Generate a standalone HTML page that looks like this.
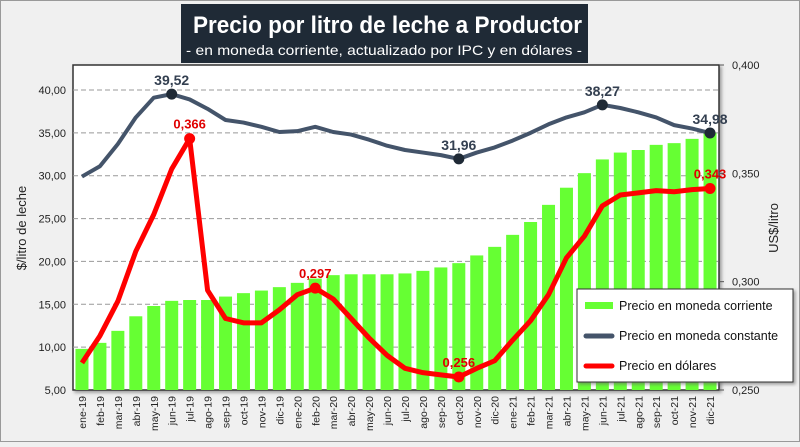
<!DOCTYPE html>
<html><head><meta charset="utf-8"><style>
body{margin:0;width:800px;height:442px;overflow:hidden;background:#f0f0f0;font-family:"Liberation Sans",sans-serif}
</style></head><body>
<svg id="c" width="800" height="442" xmlns="http://www.w3.org/2000/svg" style="font-family:'Liberation Sans',sans-serif">
<defs><filter id="sh" x="-5%" y="-5%" width="110%" height="110%"><feDropShadow dx="2" dy="2" stdDeviation="1.5" flood-color="#666" flood-opacity="0.6"/></filter></defs>
<rect x="0.5" y="0.5" width="799" height="441" fill="#f0f0f0" stroke="#999"/>
<rect x="73" y="65" width="646" height="325" fill="#fff" stroke="#333" stroke-width="1.5" filter="url(#sh)"/>
<g id="grid"></g><g id="bars"></g><g id="lines"></g><g id="axes"></g>
<rect x="181" y="4" width="407" height="59" fill="#1f2a36"/>
<text x="193" y="33" textLength="389" lengthAdjust="spacingAndGlyphs" fill="#fff" font-size="24" font-weight="bold">Precio por litro de leche a Productor</text>
<text x="186" y="55" textLength="396" lengthAdjust="spacingAndGlyphs" fill="#fff" font-size="14">- en moneda corriente, actualizado por IPC y en dólares -</text>
<text transform="translate(26,228) rotate(-90)" text-anchor="middle" font-size="13" fill="#222">$/litro de leche</text>
<text transform="translate(778,228) rotate(-90)" text-anchor="middle" font-size="13" fill="#222">US$/litro</text>
<g>
<rect x="577" y="289" width="216" height="93" fill="#fff" stroke="#333" filter="url(#sh)"/>
<rect x="585" y="302" width="28" height="7" fill="#66ff33"/>
<text x="619" y="310" font-size="12.5" fill="#111">Precio en moneda corriente</text>
<line x1="586" y1="336" x2="612" y2="336" stroke="#44546a" stroke-width="5" stroke-linecap="round"/>
<text x="619" y="340" font-size="12.5" fill="#111">Precio en moneda constante</text>
<line x1="586" y1="366" x2="612" y2="366" stroke="#ff0000" stroke-width="5" stroke-linecap="round"/>
<text x="619" y="370" font-size="12.5" fill="#111">Precio en dólares</text>
</g>
</svg>
<script>
const categories=["ene-19","feb-19","mar-19","abr-19","may-19","jun-19","jul-19","ago-19","sep-19","oct-19","nov-19","dic-19","ene-20","feb-20","mar-20","abr-20","may-20","jun-20","jul-20","ago-20","sep-20","oct-20","nov-20","dic-20","ene-21","feb-21","mar-21","abr-21","may-21","jun-21","jul-21","ago-21","sep-21","oct-21","nov-21","dic-21"];
const currentPrice=[9.8,10.5,11.9,13.6,14.8,15.4,15.5,15.5,15.9,16.3,16.6,17.0,17.5,18.0,18.4,18.5,18.5,18.5,18.6,18.9,19.3,19.8,20.7,21.7,23.1,24.6,26.6,28.6,30.3,31.9,32.7,33.0,33.6,33.8,34.3,35.0];
const constantPrice=[29.9,31.1,33.7,36.8,39.1,39.52,38.9,37.8,36.5,36.2,35.7,35.1,35.2,35.7,35.1,34.8,34.2,33.5,33.0,32.7,32.4,31.96,32.7,33.3,34.1,35.0,36.0,36.8,37.4,38.27,37.9,37.4,36.8,35.9,35.5,34.98];
const dollarPrice=[0.2625,0.275,0.291,0.314,0.331,0.352,0.366,0.296,0.283,0.281,0.281,0.287,0.294,0.297,0.292,0.283,0.274,0.266,0.260,0.258,0.257,0.256,0.260,0.2635,0.273,0.282,0.294,0.311,0.321,0.335,0.340,0.341,0.342,0.3415,0.3425,0.343];
const leftTicks=[5,10,15,20,25,30,35,40];
const rightTicks=[0.25,0.3,0.35,0.4];
const constantLabels=[5,21,29,35];
const dollarLabels=[6,13,21,35];
const NS="http://www.w3.org/2000/svg";
const X0=73,X1=719,step=(X1-X0)/categories.length;
const xC=i=>X0+step*(i+0.5);
const yL=v=>390-(v-5)*(300/35);
const yR=v=>390-(v-0.25)*(325/0.15);
const fmt=(v,d)=>v.toFixed(d).replace('.',',');
function mk(tag,attrs,parent,text){const e=document.createElementNS(NS,tag);for(const k in attrs)e.setAttribute(k,attrs[k]);if(text!==undefined)e.textContent=text;document.getElementById(parent).appendChild(e);return e;}
leftTicks.forEach(t=>{
 if(t>5){const g=mk('line',{x1:X0,x2:X1,y1:yL(t),y2:yL(t),stroke:'#999','stroke-dasharray':'5,3'},'grid');
 
 }
 const l=mk('text',{x:66,y:yL(t)+4,'text-anchor':'end','font-size':'11',fill:'#222'},'axes',fmt(t,2));
 
 
});
rightTicks.forEach(t=>{
 const l=mk('text',{x:732,y:yR(t)+4,'font-size':'11',fill:'#222'},'axes',fmt(t,3));
 
 
 const tk=mk('line',{x1:X1,x2:X1+5,y1:yR(t),y2:yR(t),stroke:'#555'},'axes');
 
 
});
categories.forEach((c,i)=>{
 const b=mk('rect',{x:xC(i)-6.5,y:yL(currentPrice[i]),width:13,height:390-yL(currentPrice[i]),fill:'#66ff33'},'bars');
 
 
 const x=xC(i)+4,y=396;
 const t=mk('text',{x:x,y:y,transform:`rotate(-90 ${x} ${y})`,'text-anchor':'end','font-size':'10.5',fill:'#222'},'axes',c);
 
 
});
const p1=mk('polyline',{points:constantPrice.map((v,i)=>xC(i)+','+yL(v)).join(' '),fill:'none',stroke:'#44546a','stroke-width':4,'stroke-linejoin':'round'},'lines');


const p2=mk('polyline',{points:dollarPrice.map((v,i)=>xC(i)+','+yR(v)).join(' '),fill:'none',stroke:'#ff0000','stroke-width':5,'stroke-linejoin':'round'},'lines');


constantLabels.forEach(i=>{
 const m=mk('circle',{cx:xC(i),cy:yL(constantPrice[i]),r:5.5,fill:'#1f2a36'},'lines');
 
 
 const t=mk('text',{x:xC(i),y:yL(constantPrice[i])-9,'text-anchor':'middle','font-size':'14','font-weight':'bold',fill:'#333f50'},'lines',fmt(constantPrice[i],2));
 
 
});
dollarLabels.forEach(i=>{
 const m=mk('circle',{cx:xC(i),cy:yR(dollarPrice[i]),r:5.5,fill:'#ff0000'},'lines');
 
 
 const t=mk('text',{x:xC(i),y:yR(dollarPrice[i])-10,'text-anchor':'middle','font-size':'13','font-weight':'bold',fill:'#e00000'},'lines',fmt(dollarPrice[i],3));
 
 
});
</script>
</body></html>
